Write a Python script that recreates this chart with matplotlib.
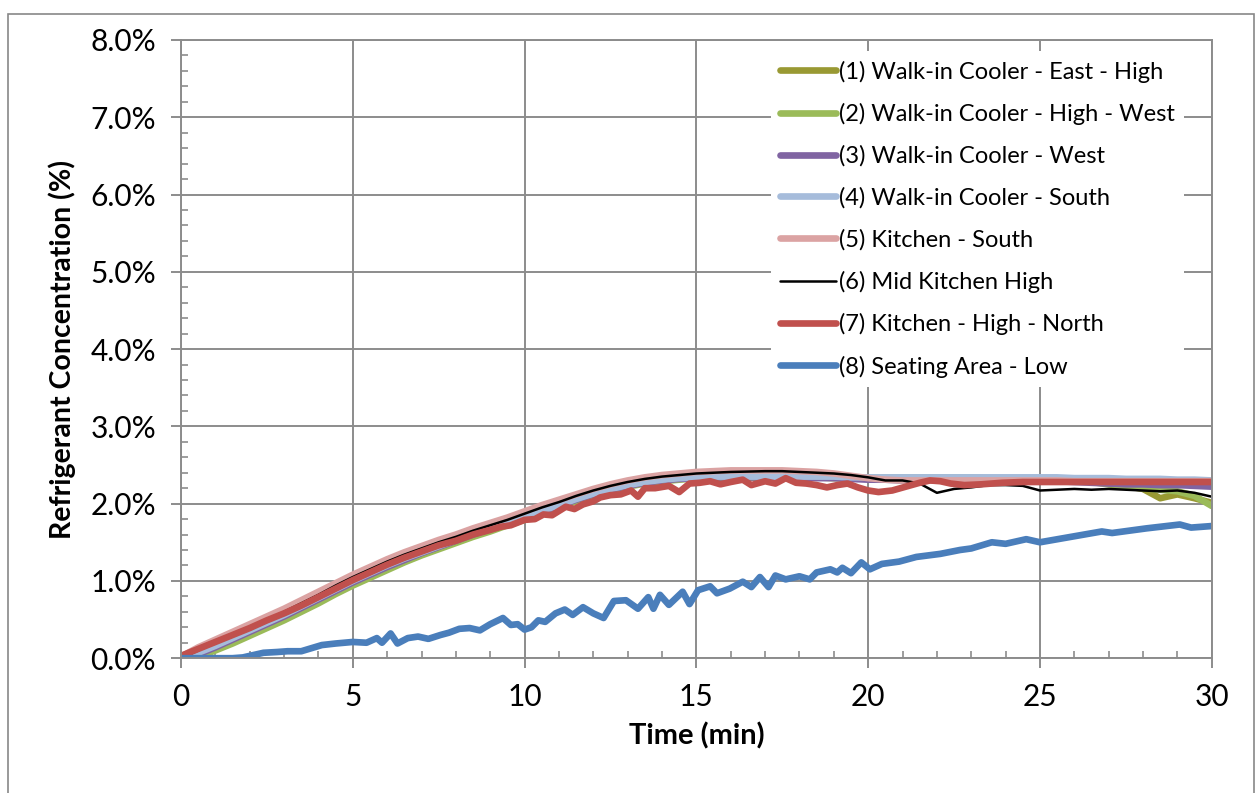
import numpy as np
import matplotlib.pyplot as plt
from matplotlib.patches import Rectangle
from matplotlib.ticker import MultipleLocator, FuncFormatter

plt.rcParams['font.family'] = ['Lato', 'DejaVu Sans']

# half-minute grid used by the smoother sensor traces
t_grid = np.arange(0, 30.01, 0.5)

walkin_east_high = [
    0.00, 0.04, 0.12, 0.21, 0.31, 0.41, 0.51, 0.62, 0.73, 0.85,
    0.96, 1.06, 1.16, 1.26, 1.35, 1.43, 1.51, 1.59, 1.66, 1.73,
    1.81, 1.89, 1.97, 2.05, 2.12, 2.18, 2.23, 2.27, 2.30, 2.32,
    2.33, 2.34, 2.34, 2.34, 2.34, 2.34, 2.34, 2.34, 2.33, 2.33,
    2.33, 2.33, 2.33, 2.33, 2.33, 2.33, 2.33, 2.32, 2.32, 2.32,
    2.32, 2.31, 2.30, 2.28, 2.26, 2.23, 2.19, 2.07, 2.12, 2.07,
    2.01]
walkin_high_west = [
    0.00, 0.02, 0.10, 0.19, 0.29, 0.39, 0.49, 0.60, 0.71, 0.83,
    0.94, 1.04, 1.14, 1.24, 1.33, 1.41, 1.49, 1.57, 1.64, 1.72,
    1.79, 1.87, 1.95, 2.03, 2.11, 2.17, 2.22, 2.26, 2.29, 2.31,
    2.33, 2.34, 2.34, 2.34, 2.34, 2.34, 2.34, 2.34, 2.34, 2.34,
    2.34, 2.34, 2.34, 2.34, 2.34, 2.34, 2.34, 2.33, 2.33, 2.33,
    2.33, 2.32, 2.30, 2.28, 2.25, 2.22, 2.20, 2.18, 2.16, 2.10,
    1.97]
walkin_west = [
    0.00, 0.05, 0.14, 0.24, 0.34, 0.44, 0.54, 0.65, 0.76, 0.87,
    0.98, 1.08, 1.18, 1.27, 1.36, 1.44, 1.52, 1.60, 1.67, 1.74,
    1.82, 1.90, 1.97, 2.05, 2.12, 2.18, 2.23, 2.27, 2.30, 2.32,
    2.33, 2.34, 2.34, 2.34, 2.34, 2.34, 2.34, 2.33, 2.33, 2.32,
    2.31, 2.31, 2.30, 2.30, 2.30, 2.30, 2.30, 2.30, 2.30, 2.29,
    2.29, 2.29, 2.28, 2.27, 2.26, 2.25, 2.25, 2.24, 2.24, 2.23,
    2.22]
walkin_south = [
    0.00, 0.07, 0.16, 0.26, 0.36, 0.46, 0.56, 0.67, 0.78, 0.89,
    1.00, 1.10, 1.20, 1.29, 1.37, 1.45, 1.53, 1.61, 1.68, 1.75,
    1.83, 1.91, 1.98, 2.06, 2.13, 2.19, 2.24, 2.28, 2.31, 2.33,
    2.34, 2.35, 2.35, 2.35, 2.35, 2.35, 2.35, 2.35, 2.35, 2.34,
    2.34, 2.34, 2.34, 2.34, 2.34, 2.34, 2.34, 2.34, 2.34, 2.34,
    2.34, 2.34, 2.33, 2.33, 2.33, 2.32, 2.32, 2.32, 2.31, 2.31,
    2.30]
kitchen_south = [
    0.02, 0.14, 0.24, 0.34, 0.44, 0.54, 0.64, 0.75, 0.86, 0.97,
    1.08, 1.18, 1.28, 1.37, 1.45, 1.53, 1.60, 1.68, 1.75, 1.82,
    1.90, 1.98, 2.05, 2.12, 2.19, 2.25, 2.30, 2.34, 2.37, 2.39,
    2.41, 2.42, 2.43, 2.43, 2.43, 2.43, 2.42, 2.41, 2.39, 2.36,
    2.33, 2.31, 2.30, 2.30, 2.30, 2.30, 2.30, 2.30, 2.30, 2.30,
    2.30, 2.30, 2.29, 2.29, 2.29, 2.29, 2.29, 2.29, 2.29, 2.29,
    2.29]
mid_kitchen_high = [
    0.00, 0.10, 0.20, 0.30, 0.40, 0.50, 0.60, 0.71, 0.82, 0.94,
    1.05, 1.15, 1.25, 1.34, 1.42, 1.50, 1.57, 1.65, 1.72, 1.79,
    1.87, 1.95, 2.02, 2.10, 2.17, 2.23, 2.28, 2.32, 2.35, 2.37,
    2.39, 2.40, 2.41, 2.415, 2.42, 2.42, 2.41, 2.40, 2.39, 2.37,
    2.34, 2.30, 2.30, 2.26, 2.14, 2.19, 2.21, 2.24, 2.24, 2.23,
    2.17, 2.18, 2.19, 2.18, 2.19, 2.18, 2.17, 2.16, 2.17, 2.14,
    2.09]

# noisier traces logged on their own time stamps
t_kitchen_north = [
    0, 0.5, 1, 1.5, 2, 2.5, 3, 3.5, 4, 4.5, 5, 5.5, 6, 6.5, 7, 7.5, 8, 8.5, 9,
    9.3, 9.6, 10, 10.3, 10.55, 10.8, 11.2, 11.45, 11.7, 12.0, 12.2, 12.5, 12.8,
    13.1, 13.3, 13.5, 13.8, 14.2, 14.5, 14.8, 15.1, 15.4, 15.7, 16.0, 16.35,
    16.6, 17.0, 17.3, 17.6, 17.9, 18.2, 18.5, 18.8, 19.1, 19.4, 19.7, 20.0,
    20.3, 20.7, 21.1, 21.5, 21.8, 22.1, 22.4, 22.8, 23.3, 23.9, 24.5, 25, 26,
    27, 28, 29, 30]
kitchen_high_north = [
    0.03, 0.12, 0.21, 0.30, 0.39, 0.49, 0.58, 0.68, 0.79, 0.90, 1.01, 1.11,
    1.21, 1.30, 1.38, 1.46, 1.52, 1.60, 1.66,
    1.70, 1.72, 1.79, 1.80, 1.86, 1.85, 1.96, 1.93, 1.99, 2.03, 2.08, 2.11, 2.12,
    2.17, 2.09, 2.20, 2.20, 2.23, 2.15, 2.26, 2.27, 2.29, 2.25, 2.28, 2.31,
    2.24, 2.29, 2.26, 2.33, 2.27, 2.26, 2.24, 2.21, 2.24, 2.26, 2.21, 2.17,
    2.15, 2.17, 2.22, 2.27, 2.30, 2.29, 2.26, 2.24, 2.25, 2.27, 2.28, 2.28, 2.28,
    2.28, 2.28, 2.28, 2.28]

t_seating = [
    0, 0.5, 1.0, 1.5, 1.8, 2.1, 2.4, 2.8, 3.1, 3.5, 3.8, 4.1, 4.5, 5.0, 5.4,
    5.7, 5.85, 6.1, 6.3, 6.6, 6.9, 7.2, 7.55, 7.8, 8.1, 8.4, 8.7, 9.0, 9.37,
    9.6, 9.8, 10.0, 10.2, 10.4, 10.6, 10.9, 11.17, 11.4, 11.7, 12.0, 12.3,
    12.6, 12.95, 13.3, 13.6, 13.75, 13.94, 14.2, 14.6, 14.8, 15.05, 15.4,
    15.6, 15.97, 16.35, 16.6, 16.85, 17.1, 17.3, 17.6, 18.0, 18.3, 18.5,
    18.9, 19.1, 19.25, 19.5, 19.8, 20.05, 20.4, 20.9, 21.4, 22.1, 22.67,
    23.0, 23.6, 24.0, 24.6, 25.0, 25.9, 26.8, 27.1, 28.1, 29.07, 29.4, 30.0]
seating_low = [
    0.0, 0.0, 0.0, 0.0, 0.01, 0.04, 0.07, 0.08, 0.09, 0.09, 0.13, 0.17, 0.19,
    0.21, 0.20, 0.26, 0.20, 0.32, 0.19, 0.26, 0.28, 0.25, 0.30, 0.33, 0.38,
    0.39, 0.36, 0.44, 0.52, 0.43, 0.44, 0.37, 0.40, 0.49, 0.47, 0.58, 0.63,
    0.56, 0.66, 0.58, 0.52, 0.74, 0.75, 0.64, 0.79, 0.64, 0.82, 0.69, 0.86,
    0.70, 0.88, 0.93, 0.84, 0.90, 0.99, 0.92, 1.05, 0.92, 1.07, 1.02, 1.06,
    1.02, 1.11, 1.15, 1.11, 1.17, 1.10, 1.24, 1.15, 1.22, 1.25, 1.31, 1.35,
    1.40, 1.42, 1.50, 1.48, 1.54, 1.50, 1.57, 1.64, 1.62, 1.68, 1.73, 1.69,
    1.71]

labels = [
    "(1) Walk-in Cooler - East - High",
    "(2) Walk-in Cooler - High - West",
    "(3) Walk-in Cooler - West",
    "(4) Walk-in Cooler - South",
    "(5) Kitchen - South",
    "(6) Mid Kitchen High",
    "(7) Kitchen - High - North",
    "(8) Seating Area - Low",
]
colors = ["#999933", "#9BBB59", "#8064A2", "#A6BCDB",
          "#DBA3A3", "#000000", "#C0504D", "#4A7EBB"]

fig = plt.figure(figsize=(12.57, 7.93), dpi=100)
ax = fig.add_axes([0.144, 0.170, 0.820, 0.7796])

# chart area border
fig.patches.append(Rectangle((0.0064, -0.01), 0.9912, 1.0012 - 0.0088,
                             transform=fig.transFigure, fill=False,
                             edgecolor="#888888", linewidth=1.2))

series = [
    (t_grid, walkin_east_high, 4.8),
    (t_grid, walkin_high_west, 4.8),
    (t_grid, walkin_west, 4.8),
    (t_grid, walkin_south, 4.8),
    (t_grid, kitchen_south, 4.8),
    (t_grid, mid_kitchen_high, 1.8),
    (t_kitchen_north, kitchen_high_north, 4.8),
    (t_seating, seating_low, 4.8),
]
for (t, y, lw), lab, c in zip(series, labels, colors):
    ax.plot(t, y, color=c, lw=lw, label=lab, solid_capstyle="round",
            solid_joinstyle="round")

ax.set_xlim(0, 30)
ax.set_ylim(0, 8)
ax.xaxis.set_major_locator(MultipleLocator(5))
ax.xaxis.set_minor_locator(MultipleLocator(1))
ax.yaxis.set_major_locator(MultipleLocator(1))
ax.yaxis.set_minor_locator(MultipleLocator(0.2))
ax.yaxis.set_major_formatter(FuncFormatter(lambda v, p: f"{v:.1f}%"))

grid_c = "#8C8C8C"
ax.grid(True, which="major", color=grid_c, lw=1.4)
ax.set_axisbelow(True)
for s in ax.spines.values():
    s.set_color(grid_c)
    s.set_linewidth(1.4)
ax.tick_params(which="major", direction="out", length=7, width=1.4,
               color=grid_c, labelsize=21.5, pad=11)
ax.tick_params(which="minor", direction="in", length=5, width=1.2,
               color=grid_c)

ax.set_xlabel("Time (min)", fontsize=21, fontweight="bold", labelpad=8)
ax.set_ylabel("Refrigerant Concentration (%)", fontsize=20.5,
              fontweight="bold", labelpad=10)

leg = ax.legend(loc="upper left", bbox_to_anchor=(0.572, 0.982),
                frameon=True, fancybox=False, facecolor="white",
                edgecolor="none", framealpha=1, fontsize=17,
                handlelength=2.35, handletextpad=0.15, labelspacing=0.86,
                borderaxespad=0)
for ln in leg.get_lines():
    ln.set_solid_capstyle("round")

fig.savefig("out.png", dpi=100)
